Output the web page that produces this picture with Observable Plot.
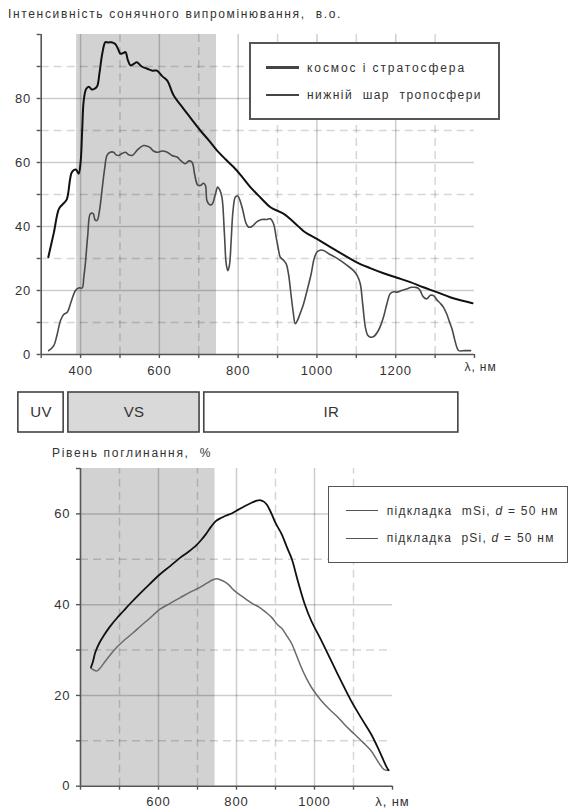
<!DOCTYPE html>
<html><head><meta charset="utf-8">
<script src="https://cdn.jsdelivr.net/npm/d3@7"></script>
<script src="https://cdn.jsdelivr.net/npm/@observablehq/plot@0.6"></script>
<style>
body{margin:0;background:#fff;font-family:"Liberation Sans",Arial,sans-serif;}
#root{position:relative;width:570px;height:812px;overflow:hidden;background:#fff;}
#root > *{position:absolute;}
.t{white-space:pre;color:#333;line-height:1;transform:translateY(-50%);}
.box{background:#fff;box-sizing:border-box;}
</style></head>
<body><div id="root"></div>
<script>
// ---------- DATA ----------
const topTitle = "Інтенсивність сонячного випромінювання,  в.о.";
const bottomTitle = "Рівень поглинання,  %";
const axisUnit = "λ, нм";
const topSeriesNames = ["космос і стратосфера", "нижній  шар  тропосфери"];
const bottomSeriesNames = ["підкладка  mSi, ", "підкладка  pSi, "];

const visibleRange = [390, 745];

// space & stratosphere: [nm, intensity]
const spaceNm = [318,332,345,355,365,378,388,395,400,404,408,414,421,428,435,442,448,455,463,470,478,488,495,501,508,514,520,527,535,543,555,569,582,594,607,620,636,660,680,704,725,746,768,789,810,831,857,882,915,940,970,1000,1042,1070,1101,1135,1169,1203,1237,1270,1304,1338,1370,1395];
const spaceVal = [30.4,38,45.5,47,48.5,57,57.8,56.5,60,70,79.4,83,83.7,82.8,83,83.8,88,94,97.6,97.5,97.6,97,95.5,94,94.2,94.5,92,90.3,90.8,91.3,90,89.3,88.7,88.7,87,85.6,81,77,73.8,70,67,63.8,61,58.5,55.5,52.3,49,46,44,41.5,38.2,36.1,33,31,28.8,27,25.4,24,22.6,21,19.5,17.9,16.8,16];

// lower troposphere
const tropoNm = [319,332,340,349,357,366,376,387,395,404,408,412,418,425,432,437,442,448,455,461,467,475,484,490,497,505,514,522,531,545,560,575,585,594,607,620,632,645,655,666,675,683,690,697,704,712,717,721,728,734,742,748,753,759,765,770,774,778,782,787,793,799,805,812,820,827,835,848,860,873,882,890,896,902,907,915,922,928,933,940,945,950,958,966,975,985,993,1000,1008,1017,1030,1045,1059,1075,1093,1103,1110,1116,1123,1129,1136,1145,1156,1163,1169,1178,1186,1195,1203,1215,1228,1240,1249,1256,1262,1270,1279,1288,1296,1305,1313,1321,1330,1337,1343,1350,1356,1360,1375,1390];
const tropoVal = [1.2,2.8,6,10.6,12.5,13.2,16.5,20,20.8,20.8,24,28.3,37,44,44,42,41.9,45,52,58,62.2,63.2,63.2,62.4,62.2,62.8,63.2,62.4,62.2,64,65.3,64.8,63.6,63.2,63.6,63.2,62.2,61.7,60.5,59.6,60.5,60.1,56,53,52.8,53.5,52.8,48,46.8,47,50,52.3,51.5,49,38,28,26.2,28,35,45,49.2,49.5,48,45,41,39.8,40,41.5,42.2,42.2,42.4,40.8,37,33,30.4,29.5,28.3,25,20,13,9.6,10.5,13,15.8,20,25,30,32,32.6,32.5,31.5,30.5,29.4,28,26.2,24.5,22.1,16,8.5,6,5.4,5.7,7.5,9.5,11.7,16,19,19.6,19.5,20,20.5,21,21,20.8,20,18,17.4,18.5,18.4,17,16,14.8,12.5,10,8,4.5,2,1.2,1.2,1.2];

// absorption, mSi substrate
const mSiNm = [427,432,438,448,459,475,493,510,527,553,578,604,630,655,676,696,710,722,735,747,760,772,790,806,823,840,852,862,870,878,890,900,916,930,942,958,975,992,1017,1043,1068,1094,1120,1145,1165,1185,1190];
const mSiVal = [26.2,27.5,29.5,31.5,33.1,35.1,37,38.6,40.2,42.5,44.6,46.7,48.5,50.3,51.6,53,54.3,55.6,57.2,58.4,59.1,59.6,60.2,61,61.8,62.5,62.9,63,62.7,62,60,58,55.5,52.5,50,45,40.1,36.4,32.2,27.6,23.2,18.8,15,11.5,8,4.2,3.5];

// absorption, pSi substrate
const pSiNm = [427,434,442,450,459,475,493,510,535,553,576,604,630,655,680,706,725,740,750,758,770,781,793,806,823,840,857,874,890,906,916,930,941,953,966,979,992,1005,1017,1040,1060,1080,1102,1125,1145,1160,1170,1178,1185,1190];
const pSiVal = [26,25.6,25.4,26,27,28.8,30.6,32,33.8,35.2,36.9,39,40.3,41.5,42.7,43.8,44.8,45.5,45.7,45.5,45,44.3,43.2,42.3,41.3,40.3,39.5,38.4,37.2,35.5,34.8,33,31.5,29,26.2,23.8,21.8,20.2,18.9,16.8,15.2,13.3,11.5,9.6,7.8,5.8,4.5,3.7,3.5,3.5];

// spectral bands (nm, drawn on the top panel's wavelength scale)
const bandLabels = ["UV", "VS", "IR"];
const bandFrom = [242, 369, 714];
const bandTo = [357, 702, 1359];
const bandShaded = [false, true, false];

// axes
const topXTicks = d3.range(300, 1401, 100);
const topXLabels = [400, 600, 800, 1000, 1200];
const topYTicks = d3.range(0, 101, 10);
const topYLabels = [0, 20, 40, 60, 80];
const topGridMajorX = [400, 600, 800, 1000, 1200];
const topGridMinorX = [500, 700, 900, 1100, 1300];
const topGridMajorY = [20, 40, 60, 80];
const topGridMinorY = [10, 30, 50, 70, 90];

const botXTicks = d3.range(400, 1201, 100);
const botXLabels = [600, 800, 1000];
const botYTicks = d3.range(0, 71, 10);
const botYLabels = [0, 20, 40, 60];
const botGridMajorX = [600, 800, 1000];
const botGridMinorX = [500, 700, 900, 1100];
const botGridMajorY = [20, 40, 60];
const botGridMinorY = [10, 30, 50];

// ---------- BUILD ----------
const zip = (a, b) => a.map((x, i) => ({x, y: b[i]}));
const space = zip(spaceNm, spaceVal), tropo = zip(tropoNm, tropoVal);
const mSi = zip(mSiNm, mSiVal), pSi = zip(pSiNm, pSiVal);
const bands = bandLabels.map((l, i) => ({label: l, x1: bandFrom[i], x2: bandTo[i], shaded: bandShaded[i]}));

const FONT = '"Liberation Sans", Arial, sans-serif';
const root = document.getElementById("root");
const baseStyle = {fontFamily: FONT, fontSize: "13px", color: "#333", background: "transparent", overflow: "visible", letterSpacing: "0.9px"};

function grids(xmaj, xmin, ymaj, ymin, xd, yd) {
  const s = {stroke: "#000", strokeWidth: 1.5};
  return [
    Plot.ruleX(xmaj, {y1: yd[0], y2: yd[1], ...s, strokeOpacity: 0.2}),
    Plot.ruleX(xmin, {y1: yd[0], y2: yd[1], ...s, strokeOpacity: 0.16, strokeDasharray: "8,5"}),
    Plot.ruleY(ymaj, {x1: xd[0], x2: xd[1], ...s, strokeOpacity: 0.2}),
    Plot.ruleY(ymin, {x1: xd[0], x2: xd[1], ...s, strokeOpacity: 0.16, strokeDasharray: "8,5"})
  ];
}

function place(el, left, top) { el.style.left = left + "px"; el.style.top = top + "px"; root.appendChild(el); return el; }

// Top chart
const topX = [300, 1400], topY = [0, 100];
const topPlot = Plot.plot({
  width: 570, height: 390, marginTop: 34, marginBottom: 36, marginLeft: 40.7, marginRight: 96,
  x: {domain: topX, label: null}, y: {domain: topY, label: null},
  style: baseStyle,
  marks: [
    Plot.rect([visibleRange], {x1: d => d[0], x2: d => d[1], y1: topY[0], y2: topY[1], fill: "#d2d2d2"}),
    ...grids(topGridMajorX, topGridMinorX, topGridMajorY, topGridMinorY, topX, topY),
    Plot.line(tropo, {x: "x", y: "y", curve: "catmull-rom", stroke: "#4a4a4a", strokeWidth: 1.6}),
    Plot.line(space, {x: "x", y: "y", curve: "catmull-rom", stroke: "#111", strokeWidth: 2}),
    Plot.ruleX([topX[0]], {y1: topY[0], y2: topY[1], stroke: "#555", strokeWidth: 1.6}),
    Plot.ruleY([topY[0]], {x1: topX[0], x2: topX[1], stroke: "#555", strokeWidth: 1.6}),
    Plot.axisX({ticks: topXTicks, label: null, tickSize: 4, tickPadding: 7, stroke: "#555", strokeWidth: 1.4, tickFormat: d => topXLabels.includes(d) ? String(d) : ""}),
    Plot.axisY({ticks: topYTicks, label: null, tickSize: 4, tickPadding: 6, stroke: "#555", strokeWidth: 1.4, tickFormat: d => topYLabels.includes(d) ? String(d) : ""}),
    Plot.text([axisUnit], {x: topX[1], frameAnchor: "bottom", dy: 16, dx: 6, fontSize: 12, fill: "#333"})
  ]
});
place(topPlot, 0, 0);

// Band plot
const bandPlot = Plot.plot({
  width: 570, height: 60, marginTop: 12, marginBottom: 8, marginLeft: 40.7, marginRight: 96,
  x: {domain: topX, axis: null}, y: {domain: [0, 1], axis: null},
  style: {...baseStyle, fontSize: "15px", letterSpacing: "0.3px"},
  marks: [
    Plot.rect(bands, {x1: "x1", x2: "x2", y1: 0, y2: 1, fill: d => d.shaded ? "#d9d9d9" : "#fff", stroke: "#444", strokeWidth: 1.6}),
    Plot.text(bands, {x: d => (d.x1 + d.x2) / 2, y: 0.5, text: "label", fill: "#333", fontSize: 15})
  ]
});
place(bandPlot, 0, 380);

// Bottom chart
const botX = [400, 1200], botY = [0, 70];
const botPlot = Plot.plot({
  width: 570, height: 372, marginTop: 28, marginBottom: 26.3, marginLeft: 80, marginRight: 178,
  x: {domain: botX, label: null}, y: {domain: botY, label: null},
  style: baseStyle,
  marks: [
    Plot.rect([visibleRange], {x1: () => botX[0], x2: d => d[1], y1: botY[0], y2: botY[1], fill: "#d2d2d2"}),
    ...grids(botGridMajorX, botGridMinorX, botGridMajorY, botGridMinorY, botX, botY),
    Plot.line(pSi, {x: "x", y: "y", curve: "catmull-rom", stroke: "#6a6a6a", strokeWidth: 1.5}),
    Plot.line(mSi, {x: "x", y: "y", curve: "catmull-rom", stroke: "#111", strokeWidth: 1.8}),
    Plot.ruleX([botX[0]], {y1: botY[0], y2: botY[1], stroke: "#555", strokeWidth: 1.6}),
    Plot.ruleY([botY[0]], {x1: botX[0], x2: botX[1], stroke: "#555", strokeWidth: 1.6}),
    Plot.axisX({ticks: botXTicks, label: null, tickSize: 4, tickPadding: 7, stroke: "#555", strokeWidth: 1.4, tickFormat: d => botXLabels.includes(d) ? String(d) : d === botX[1] ? axisUnit : ""}),
    Plot.axisY({ticks: botYTicks, label: null, tickSize: 4, tickPadding: 6, stroke: "#555", strokeWidth: 1.4, tickFormat: d => botYLabels.includes(d) ? String(d) : ""})
  ]
});
place(botPlot, 0, 440);

// ---------- HTML text: titles and legends ----------
function text(str, left, cy, size, width, extraHTML) {
  const d = document.createElement("div");
  d.className = "t";
  d.style.fontSize = size + "px";
  if (extraHTML) d.innerHTML = extraHTML; else d.textContent = str;
  place(d, left, cy);
  if (width) {
    const w = d.getBoundingClientRect().width;
    const n = d.textContent.length;
    d.style.letterSpacing = ((width - w) / n) + "px";
  }
  return d;
}
function box(l, t, r, b, bw) {
  const d = document.createElement("div");
  d.className = "box";
  d.style.width = (r - l) + "px"; d.style.height = (b - t) + "px";
  d.style.border = bw + "px solid #555";
  return place(d, l, t);
}
function swatch(l, r, cy, color, w) {
  const d = document.createElement("div");
  d.style.width = (r - l) + "px"; d.style.height = w + "px"; d.style.background = color;
  return place(d, l, cy - w / 2);
}

text(topTitle, 8, 14, 12, 334);
text(bottomTitle, 52, 452.5, 12, 160);

// top legend
box(249, 42, 500, 120, 2);
swatch(266, 299, 67.7, "#444", 2.6);
swatch(266, 299, 95, "#444", 1.6);
text(topSeriesNames[0], 307, 67.5, 12, 159);
text(topSeriesNames[1], 307, 95, 12, 175);

// bottom legend
box(327.7, 485.7, 568.5, 563.3, 1.6);
swatch(345.7, 378.3, 510.7, "#555", 1.5);
swatch(345.7, 378.3, 538.3, "#555", 1.5);
const eq = '<i>d</i> = 50 нм';
text(null, 386.7, 510.7, 12, 172, bottomSeriesNames[0] + eq);
text(null, 386.7, 538.3, 12, 168, bottomSeriesNames[1] + eq);
</script>
</body></html>
